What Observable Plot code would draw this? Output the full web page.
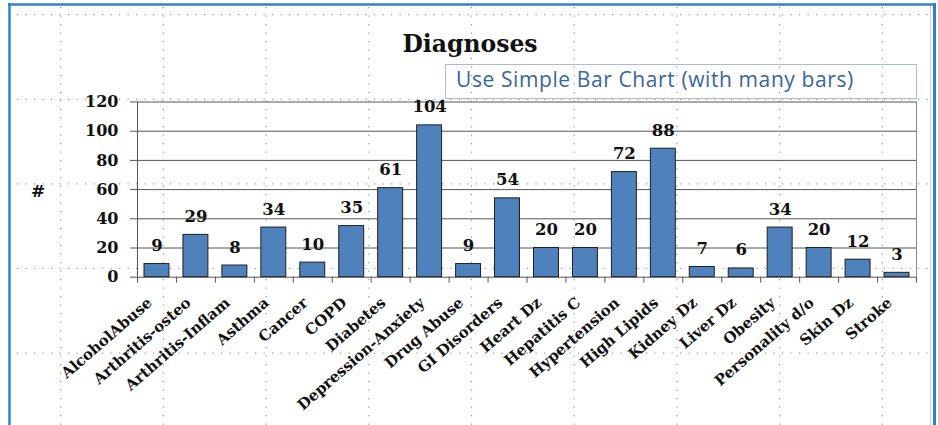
<!DOCTYPE html>
<html><head><meta charset="utf-8">
<script src="https://cdn.jsdelivr.net/npm/d3@7"></script>
<script src="https://cdn.jsdelivr.net/npm/@observablehq/plot@0.6"></script>
<style>
html,body{margin:0;padding:0;background:#fff;}
#wrap{position:relative;width:938px;height:425px;overflow:hidden;}
#bg{position:absolute;left:0;top:0;}
#chart{position:absolute;left:0;top:0;}
#chart svg{background:transparent;}
</style></head><body>
<div id="wrap"><svg id="bg" width="938" height="425"></svg><div id="chart"></div></div>
<script>
const title = "Diagnoses";
const note = "Use Simple Bar Chart (with many bars)";
const yLabel = "#";
const categories = ["AlcoholAbuse","Arthritis-osteo","Arthritis-Inflam","Asthma","Cancer","COPD","Diabetes","Depression-Anxiety","Drug Abuse","GI Disorders","Heart Dz","Hepatitis C","Hypertension","High Lipids","Kidney Dz","Liver Dz","Obesity","Personality d/o","Skin Dz","Stroke"];
const counts = [9,29,8,34,10,35,61,104,9,54,20,20,72,88,7,6,34,20,12,3];
const yTicks = [0,20,40,60,80,100,120];

const data = categories.map((c, i) => ({i, category: c, count: counts[i]}));
const serif = "'DejaVu Serif', serif";

// page decoration: document dotted grid, blue frame, title, note box, y label
const bg = d3.select("#bg");
const gridX = d3.range(9).map(k => 60.7 + k * 102.7);
const gridY = d3.range(5).map(k => 14.7 + k * 84.6);
bg.selectAll("line.gx").data(gridX).join("line")
  .attr("x1", d => d).attr("x2", d => d).attr("y1", 7).attr("y2", 425)
  .attr("stroke", "#9a9a9a").attr("stroke-width", 1.2).attr("stroke-dasharray", "1.2,7.3");
bg.selectAll("line.gy").data(gridY).join("line")
  .attr("y1", d => d).attr("y2", d => d).attr("x1", 17).attr("x2", 930)
  .attr("stroke", "#9a9a9a").attr("stroke-width", 1.2).attr("stroke-dasharray", "1.2,7.3");
bg.append("line").attr("x1", 9.5).attr("x2", 9.5).attr("y1", 3).attr("y2", 425).attr("stroke", "#2f80d0").attr("stroke-width", 2.5);
bg.append("line").attr("x1", 8).attr("x2", 936).attr("y1", 4.5).attr("y2", 4.5).attr("stroke", "#2f80d0").attr("stroke-width", 2.5);
bg.append("line").attr("x1", 934.5).attr("x2", 934.5).attr("y1", 3).attr("y2", 425).attr("stroke", "#2f80d0").attr("stroke-width", 3);
bg.append("line").attr("x1", 930.5).attr("x2", 930.5).attr("y1", 6).attr("y2", 425).attr("stroke", "#d0d0d0").attr("stroke-width", 1);
bg.append("text").attr("x", 470).attr("y", 52).attr("text-anchor", "middle")
  .attr("font-family", serif).attr("font-weight", "bold").attr("font-size", 23.5).attr("fill", "#111").text(title);
bg.append("rect").attr("x", 445.5).attr("y", 64.5).attr("width", 471).attr("height", 34)
  .attr("fill", "none").attr("stroke", "#a9bcd6").attr("stroke-width", 1);
bg.append("text").attr("x", 456).attr("y", 87).attr("font-family", "'Open Sans', 'Liberation Sans', sans-serif")
  .attr("font-size", 21).attr("letter-spacing", "0.6px").attr("fill", "#3a65a0").text(note);
bg.append("text").attr("x", 38).attr("y", 197).attr("text-anchor", "middle")
  .attr("font-family", serif).attr("font-weight", "bold").attr("font-size", 17).attr("fill", "#111").text(yLabel);

const chart = Plot.plot({
  width: 938,
  height: 425,
  marginLeft: 137,
  marginRight: 22,
  marginTop: 101.5,
  marginBottom: 148.3,
  style: {background: "transparent", fontFamily: serif, overflow: "visible", color: "#111"},
  x: {type: "linear", domain: [0, categories.length], label: null},
  y: {domain: [0, 120], label: null},
  marks: [
    Plot.ruleY(yTicks, {stroke: "#555", strokeWidth: 1}),
    Plot.ruleX([0], {stroke: "#555", strokeWidth: 1}),
    Plot.ruleX([categories.length], {stroke: "#8a8a8a", strokeWidth: 1}),
    Plot.axisY({ticks: yTicks, tickSize: 7, tickPadding: 12, stroke: "#555", fill: "#111", fontSize: 16, fontWeight: "bold"}),
    Plot.axisX({ticks: d3.range(0, categories.length + 1), tickSize: 6, stroke: "#555", tickFormat: () => ""}),
    Plot.rectY(data, {x1: "i", x2: d => d.i + 1, y: "count", insetLeft: 7, insetRight: 7, fill: "#4F81BD", stroke: "#1e1e1e", strokeWidth: 1}),
    Plot.text(data, {x: d => d.i + 0.5, y: "count", text: d => String(d.count), dy: -13, lineAnchor: "bottom", fontSize: 16.5, fontWeight: "bold", fill: "#111"}),
    Plot.text(data, {x: d => d.i + 0.5, frameAnchor: "bottom", text: "category", rotate: -41, textAnchor: "end", lineAnchor: "top", dx: -11, dy: 19, fontSize: 15, fontWeight: "bold", fill: "#111"})
  ]
});
document.getElementById("chart").appendChild(chart);
</script>
</body></html>
